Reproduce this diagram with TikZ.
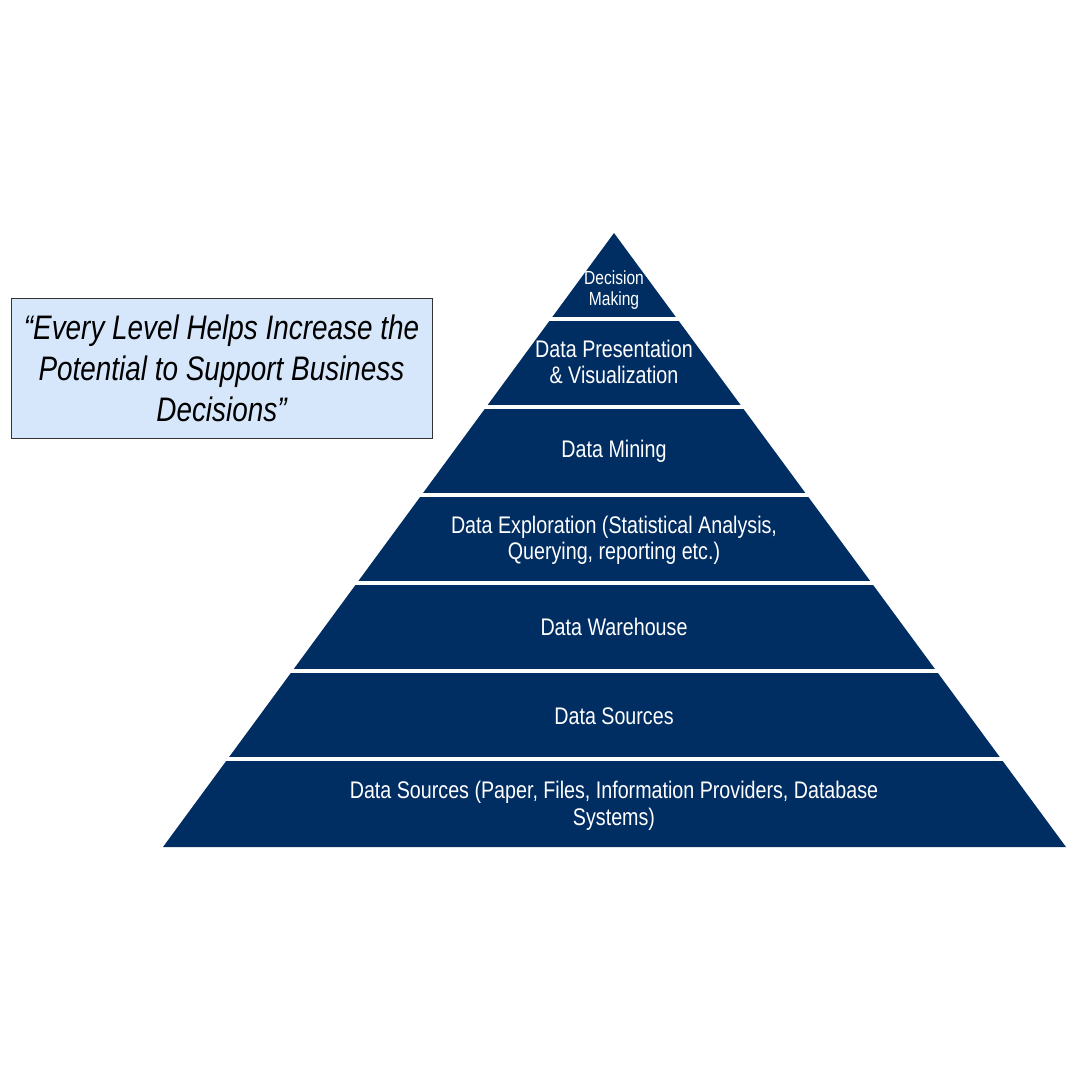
\documentclass[tikz,border=0pt]{standalone}
\usepackage{fontspec}
\setmainfont[FakeStretch=0.82]{Liberation Sans}
\usepackage{xcolor}
\usepackage{tikz}
\usetikzlibrary{positioning, calc}

\definecolor{pyrnavy}{HTML}{002D62}
\definecolor{quoteblue}{HTML}{D7E7FB}
\definecolor{quoteedge}{HTML}{333333}

\tikzset{
    layerlabel/.style={text=white, align=center, font=\fontsize{24}{26.5}\selectfont, inner sep=0pt},
    quotebox/.style={draw=quoteedge, fill=quoteblue, line width=1pt, minimum width=421pt, minimum height=140pt, align=center, font=\fontsize{34}{41}\selectfont\itshape}
}

\begin{document}
\begin{tikzpicture}[x=1pt, y=-1pt]

        \useasboundingbox (0,0) rectangle (1080,1080);

        % pyramid body
        \fill[pyrnavy] (614,233) -- (1066,847) -- (163,847) -- cycle;

        % white gaps between levels
        \foreach \y in {318.5,406.5,494.5,582.5,670.5,758.5}
            \draw[white, line width=4pt] (150,\y) -- (1075,\y);

        % level labels
        \node[layerlabel, font=\fontsize{19}{21}\selectfont] (decision) at (614,290) {Decision\\Making};
        \node[layerlabel] (present) at (614,362) {Data Presentation\\\& Visualization};
        \node[layerlabel] (mining) at (614,451.5) {Data Mining};
        \node[layerlabel] (explore) at (614,540.5) {Data Exploration (Statistical Analysis,\\Querying, reporting etc.)};
        \node[layerlabel] (warehouse) at (614,627) {Data Warehouse};
        \node[layerlabel] (sources) at (614,716) {Data Sources};
        \node[layerlabel] (rawsources) at (614,806) {Data Sources (Paper, Files, Information Providers, Database\\Systems)};

        % quote
        \node[quotebox] (quote) at (221.5,368) {``Every Level Helps Increase the\\Potential to Support Business\\Decisions''};

    \end{tikzpicture}
\end{document}
